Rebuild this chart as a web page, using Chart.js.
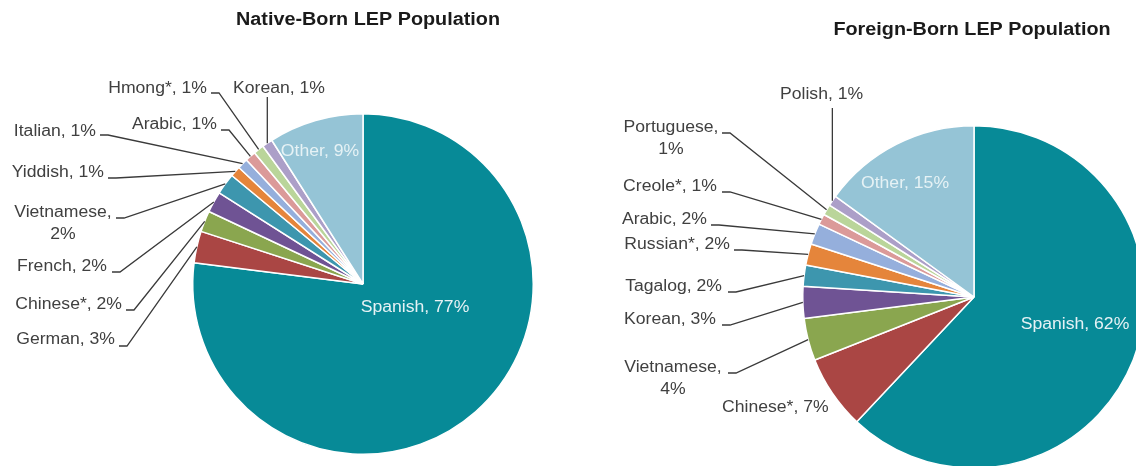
<!DOCTYPE html>
<html>
<head>
<meta charset="utf-8">
<title>LEP Population by Language</title>
<script src="https://cdn.jsdelivr.net/npm/chart.js@4.4.1/dist/chart.umd.min.js"></script>
<style>
    html, body { margin: 0; padding: 0; background: #fff; }
    body { width: 1136px; height: 466px; overflow: hidden; position: relative; }
    canvas { position: absolute; top: 0; }
    #nativeChart { left: 0; }
    #foreignChart { left: 568px; }
</style>
</head>
<body>
<canvas id="nativeChart" width="600" height="480"></canvas>
<canvas id="foreignChart" width="600" height="480"></canvas>

<script>
// ================= DATA =================
const nativeLabels = ['Spanish', 'German', 'Chinese*', 'French', 'Vietnamese', 'Yiddish', 'Italian', 'Arabic', 'Hmong*', 'Korean', 'Other'];
const nativeValues = [77, 3, 2, 2, 2, 1, 1, 1, 1, 1, 9];

const foreignLabels = ['Spanish', 'Chinese*', 'Vietnamese', 'Korean', 'Tagalog', 'Russian*', 'Arabic', 'Creole*', 'Portuguese', 'Polish', 'Other'];
const foreignValues = [62, 7, 4, 3, 2, 2, 2, 1, 1, 1, 15];

// Excel-ish palette, same order for both pies
const sliceColors = ['#078a97', '#aa4644', '#8aa64f', '#6f5394', '#3d96ae', '#e5853b', '#95afdc', '#db9a99', '#bad59a', '#ac9fc8', '#95c4d6'];

// ================= LAYOUT =================
// label placement per slice (canvas coords). type: in = inside pie, h = elbow leader, v = vertical leader, none = no line
const nativeLayout = [
    { type: 'in', x: 415, y: 308, align: 'center' },
    { type: 'h', x: 115, y: 340, align: 'right', lx: 119, ly: 346 },
    { type: 'h', x: 122, y: 305, align: 'right', lx: 126, ly: 310 },
    { type: 'h', x: 107, y: 267, align: 'right', lx: 112, ly: 272 },
    { type: 'h', x: 63, y: 213, align: 'center', wrap: true, lx: 116, ly: 218 },
    { type: 'h', x: 104, y: 173, align: 'right', lx: 108, ly: 178 },
    { type: 'h', x: 96, y: 132, align: 'right', lx: 100, ly: 135 },
    { type: 'h', x: 217, y: 125, align: 'right', lx: 221, ly: 130 },
    { type: 'h', x: 207, y: 89, align: 'right', lx: 211, ly: 93 },
    { type: 'v', x: 233, y: 89, align: 'left', ly: 97 },
    { type: 'in', x: 320, y: 152, align: 'center' }
];

// right canvas sits at x=568, so these are already shifted
const foreignLayout = [
    { type: 'in', x: 507, y: 325, align: 'center' },
    { type: 'none', x: 154, y: 408, align: 'left' },
    { type: 'h', x: 105, y: 368, align: 'center', wrap: true, lx: 160, ly: 373 },
    { type: 'h', x: 148, y: 320, align: 'right', lx: 154, ly: 325 },
    { type: 'h', x: 154, y: 287, align: 'right', lx: 160, ly: 292 },
    { type: 'h', x: 162, y: 245, align: 'right', lx: 166, ly: 250 },
    { type: 'h', x: 139, y: 220, align: 'right', lx: 143, ly: 225 },
    { type: 'h', x: 149, y: 187, align: 'right', lx: 154, ly: 192 },
    { type: 'h', x: 103, y: 128, align: 'center', wrap: true, lx: 154, ly: 133 },
    { type: 'v', x: 212, y: 95, align: 'left', ly: 108 },
    { type: 'in', x: 337, y: 184, align: 'center' }
];

const STYLE = {
    font: '16px "Liberation Sans", Arial, sans-serif',
    titleFont: 'bold 18px "Liberation Sans", Arial, sans-serif',
    stretch: 1.1,           // source text renders a bit wide
    textColor: '#404040',
    insideColor: '#e6f2f5',
    lineColor: '#3a3a3a',
    lineWidth: 1.3,
    lineHeight: 22
};

// ================= DRAW HELPERS =================
function drawText(ctx, text, x, y, align, font) {
    ctx.save();
    ctx.translate(x, y);
    ctx.scale(STYLE.stretch, 1);
    ctx.font = font || STYLE.font;
    ctx.textAlign = align;
    ctx.textBaseline = 'middle';
    ctx.fillText(text, 0, 0);
    ctx.restore();
}

const labelPlugin = {
    id: 'pieLabels',
    afterDraw(chart, args, opts) {
        const ctx = chart.ctx;
        const meta = chart.getDatasetMeta(0);
        const names = chart.data.labels;
        const vals = chart.data.datasets[0].data;

        // title
        ctx.fillStyle = '#1a1a1a';
        drawText(ctx, opts.title, opts.titleX, opts.titleY, 'center', STYLE.titleFont);

        opts.layout.forEach((l, i) => {
            const arc = meta.data[i].getProps(['x', 'y', 'startAngle', 'endAngle', 'outerRadius'], true);
            const mid = (arc.startAngle + arc.endAngle) / 2;
            const px = arc.x + Math.cos(mid) * arc.outerRadius;
            const py = arc.y + Math.sin(mid) * arc.outerRadius;

            // leader line
            ctx.save();
            ctx.strokeStyle = STYLE.lineColor;
            ctx.lineWidth = STYLE.lineWidth;
            ctx.beginPath();
            if (l.type === 'h') {
                ctx.moveTo(l.lx, l.ly);
                ctx.lineTo(l.lx + 8, l.ly);
                ctx.lineTo(px, py);
            } else if (l.type === 'v') {
                ctx.moveTo(px, l.ly);
                ctx.lineTo(px, py);
            }
            ctx.stroke();
            ctx.restore();

            // label text
            ctx.fillStyle = l.type === 'in' ? STYLE.insideColor : STYLE.textColor;
            if (l.wrap) {
                drawText(ctx, names[i] + ',', l.x, l.y, 'center');
                drawText(ctx, vals[i] + '%', l.x, l.y + STYLE.lineHeight, 'center');
            } else {
                drawText(ctx, names[i] + ', ' + vals[i] + '%', l.x, l.y, l.align);
            }
        });
    }
};

// ================= CHARTS =================
function makePie(id, labels, values, padding, plug) {
    return new Chart(document.getElementById(id), {
        type: 'pie',
        data: {
            labels: labels,
            datasets: [{
                data: values,
                backgroundColor: sliceColors,
                borderColor: '#ffffff',
                borderWidth: 1.5
            }]
        },
        options: {
            responsive: false,
            animation: false,
            layout: { padding: padding },
            plugins: {
                legend: { display: false },
                tooltip: { enabled: false },
                pieLabels: plug
            }
        },
        plugins: [labelPlugin]
    });
}

makePie('nativeChart', nativeLabels, nativeValues,
    { left: 192, right: 66, top: 113, bottom: 25 },
    { title: 'Native-Born LEP Population', titleX: 368, titleY: 20, layout: nativeLayout });

makePie('foreignChart', foreignLabels, foreignValues,
    { left: 234, right: 22, top: 125, bottom: 11 },
    { title: 'Foreign-Born LEP Population', titleX: 972 - 568, titleY: 30, layout: foreignLayout });
</script>
</body>
</html>
